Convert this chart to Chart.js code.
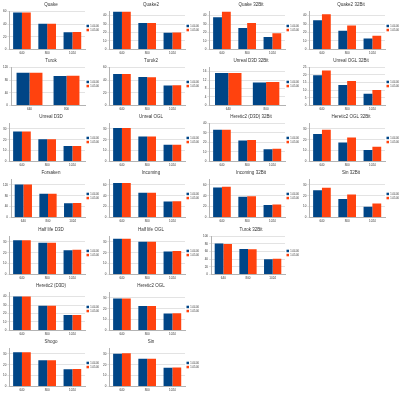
<!DOCTYPE html>
<html>
<head>
<meta charset="utf-8">
<script src="https://cdn.jsdelivr.net/npm/chart.js@4"></script>
<style>
  body { margin: 0; background: #fff; }
  #grid { position: relative; width: 400px; height: 393px; }
  #grid canvas { position: absolute; }
</style>
</head>
<body>
<div id="grid"></div>
<script>
// benchmark titles, one per small chart
const titles = [
  "Quake", "Quake2", "Quake 32Bit", "Quake2 32Bit",
  "Turok", "Turok2", "Unreal D3D 32Bit", "Unreal OGL 32Bit",
  "Unreal D3D", "Unreal OGL", "Heretic2 (D3D) 32Bit", "Heretic2 OGL 32Bit",
  "Forsaken", "Incoming", "Incoming 32Bit", "Sin 32Bit",
  "Half life D3D", "Half life OGL", "Turok 32Bit",
  "Heretic2 (D3D)", "Heretic2 OGL",
  "Shogo", "Sin"
];
const resolutions = ["640", "800", "1024"];
const resolutionsShort = ["640", "800"];
const seriesNames = ["1.04.00", "1.05.00"];

const seriesA = [
  [58.3, 40.5, 27.2], [44.8, 31.4, 19.8], [38, 25.2, 14.7], [34.5, 22.1, 12.8],
  [103, 93], [49.5, 44.8, 31.4], [15.4, 10.9], [19.8, 13.5, 7.7],
  [27.5, 20.3, 14.2], [30.8, 23, 15.3], [33.3, 21.9, 12.7], [25.3, 17.5, 10.6],
  [121.6, 86.8, 52], [63.5, 45.6, 29.3], [55.3, 38, 22.8], [25, 17, 9.8],
  [31.4, 29.2, 22.3], [32.8, 30, 21.2], [81, 67, 40],
  [40, 29.2, 18.3], [29.3, 22.4, 15.6],
  [31.4, 24.2, 15.8], [30, 25.5, 17.2]
];
const seriesB = [
  [58.3, 40.5, 27.6], [44.8, 31.4, 20], [44.8, 31.4, 19], [41.5, 28.3, 16.3],
  [103, 93.5], [49.5, 44.3, 31.9], [15.4, 11.1], [23, 16.1, 10.1],
  [27.5, 20.3, 14.2], [30.8, 23, 15.4], [33.3, 22.5, 13.3], [29.2, 21.9, 13.6],
  [121, 87, 53], [63.5, 45.6, 29.8], [56.4, 39, 23.9], [27.4, 21.2, 12.7],
  [31.4, 29.2, 22.7], [32.8, 30, 21.5], [80, 66, 41],
  [40, 29.2, 18.3], [29.3, 22.4, 15.8],
  [31.4, 24.2, 16], [30.5, 25.5, 17.5]
];
// y axis tick range
const yMax  = [60, 45, 45, 45, 120, 60, 18, 25, 35, 35, 40, 35, 140, 70, 70, 35, 35, 35, 100, 45, 35, 35, 35];
const yStep = [10, 5, 5, 5, 20, 10, 2, 5, 5, 5, 5, 5, 20, 10, 10, 5, 5, 5, 20, 5, 5, 5, 5];
const chartsPerRow = [4, 4, 4, 4, 3, 2, 2];

const grid = document.getElementById("grid");
const cellW = 100;
const cellH = 393 / 7;

let idx = 0;
chartsPerRow.forEach((count, row) => {
  for (let col = 0; col < count; col++) {
    const i = idx++;
    const canvas = document.createElement("canvas");
    canvas.width = cellW;
    canvas.height = 56;
    canvas.style.left = (col * cellW) + "px";
    canvas.style.top = Math.round(row * cellH) + "px";
    grid.appendChild(canvas);
    makeChart(canvas, i);
  }
});

function makeChart(canvas, i) {
  const labels = seriesA[i].length === 2 ? resolutionsShort : resolutions;
  new Chart(canvas.getContext("2d"), {
    type: "bar",
    data: {
      labels: labels,
      datasets: [
        { label: seriesNames[0], data: seriesA[i], backgroundColor: "#004586" },
        { label: seriesNames[1], data: seriesB[i], backgroundColor: "#ff420e" }
      ]
    },
    options: {
      responsive: false,
      animation: false,
      devicePixelRatio: 1,
      categoryPercentage: 0.7,
      barPercentage: 1.0,
      layout: { padding: { left: 2, right: 0, top: 0, bottom: 0 } },
      plugins: {
        title: {
          display: true,
          text: titles[i],
          color: "#333",
          font: { family: "Liberation Sans", size: 4.5, weight: "normal" },
          padding: { top: 2, bottom: 4 }
        },
        legend: {
          position: "right",
          maxWidth: 15,
          labels: {
            boxWidth: 2.5,
            boxHeight: 2.5,
            padding: 1.5,
            color: "#333",
            font: { family: "Liberation Sans", size: 2.6 }
          }
        },
        tooltip: { enabled: false }
      },
      scales: {
        x: {
          grid: { display: false, drawTicks: false, tickLength: 0 },
          border: { color: "#b3b3b3" },
          ticks: { color: "#333", padding: 1.5, font: { family: "Liberation Sans", size: 3 } }
        },
        y: {
          min: 0,
          max: yMax[i],
          grid: { color: "#e3e3e3", tickLength: 2 },
          border: { color: "#b3b3b3" },
          ticks: {
            stepSize: yStep[i],
            color: "#333",
            padding: 1,
            font: { family: "Liberation Sans", size: 3 }
          }
        }
      }
    }
  });
}
</script>
</body>
</html>
